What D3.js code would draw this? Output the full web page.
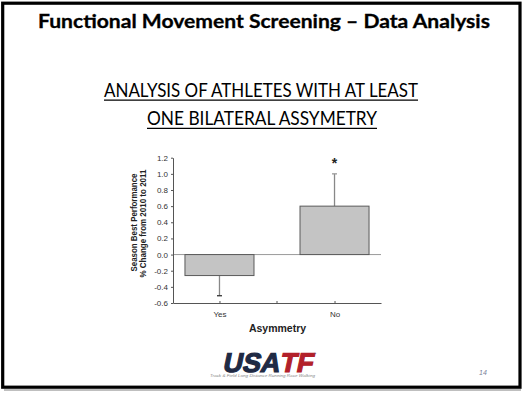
<!DOCTYPE html>
<html>
<head>
<meta charset="utf-8">
<script src="https://cdn.jsdelivr.net/npm/d3@7"></script>
<style>
  html, body { margin: 0; padding: 0; background: #fff; }
  svg { display: block; }
</style>
</head>
<body>
<svg id="slide" width="523" height="393"></svg>
<script>
// chart values
var categories = ["Yes", "No"];
var means = [-0.26, 0.60];
var errors = [0.25, 0.40];          // one-sided SD, drawn away from zero
var marks = ["", "*"];
var yTicks = [-0.6, -0.4, -0.2, 0.0, 0.2, 0.4, 0.6, 0.8, 1.0, 1.2];

var svg = d3.select("#slide");

// slide frame
svg.append("line")
    .attr("x1", 4).attr("x2", 521)
    .attr("y1", 390).attr("y2", 390)
    .attr("stroke", "#aaa").attr("stroke-width", 1.5);
svg.append("rect")
    .attr("x", 2.7).attr("y", 3.2)
    .attr("width", 517.3).attr("height", 384)
    .attr("fill", "#fff")
    .attr("stroke", "#000")
    .attr("stroke-width", 3.2);

// titles
svg.append("text")
    .attr("x", 264).attr("y", 28.3)
    .attr("text-anchor", "middle")
    .attr("font-family", "Lato, 'Open Sans', sans-serif")
    .attr("font-weight", "bold")
    .attr("font-size", 18.5)
    .attr("stroke", "#000").attr("stroke-width", 0.3)
    .attr("textLength", 452)
    .attr("lengthAdjust", "spacingAndGlyphs")
    .text("Functional Movement Screening \u2013 Data Analysis");

var subLines = [
    {text: "ANALYSIS OF ATHLETES WITH AT LEAST", cx: 261, y: 96.7, w: 314},
    {text: "ONE BILATERAL ASSYMETRY", cx: 262, y: 124.8, w: 230}
];
subLines.forEach(function (s) {
    svg.append("text")
        .attr("x", s.cx).attr("y", s.y)
        .attr("text-anchor", "middle")
        .attr("font-family", "Lato, 'Open Sans', sans-serif")
        .attr("font-size", 18.5)
        .attr("textLength", s.w)
        .attr("lengthAdjust", "spacingAndGlyphs")
        .text(s.text);
    svg.append("line")
        .attr("x1", s.cx - s.w / 2).attr("x2", s.cx + s.w / 2)
        .attr("y1", s.y + 3.5).attr("y2", s.y + 3.5)
        .attr("stroke", "#000").attr("stroke-width", 1.2);
});

// chart
var plotLeft = 173, plotRight = 381, plotTop = 157.7, plotBottom = 303;

var x = d3.scalePoint()
    .domain(categories)
    .range([plotLeft, plotRight])
    .padding(0.404);

var y = d3.scaleLinear()
    .domain([yTicks[0], yTicks[yTicks.length - 1]])
    .range([plotBottom, plotTop]);

var fmt = function (d) { return d3.format(".1f")(d).replace("\u2212", "-"); };
var barW = x.step() * 0.6;

var g = svg.append("g").attr("font-family", "'Liberation Sans', Arial, sans-serif");

// zero line
g.append("line")
    .attr("x1", plotLeft).attr("x2", plotRight)
    .attr("y1", y(0)).attr("y2", y(0))
    .attr("stroke", "#9a9a9a").attr("stroke-width", 1);

// error bars
var tip = function (i) { return means[i] + Math.sign(means[i]) * errors[i]; };
var err = g.selectAll(".err")
    .data(categories)
    .enter().append("g")
    .attr("class", "err");
err.append("line")
    .attr("x1", function (d) { return x(d); })
    .attr("x2", function (d) { return x(d); })
    .attr("y1", function (d, i) { return y(means[i]); })
    .attr("y2", function (d, i) { return y(tip(i)); })
    .attr("stroke", "#888").attr("stroke-width", 1.3);
err.append("line")
    .attr("x1", function (d) { return x(d) - 2.5; })
    .attr("x2", function (d) { return x(d) + 2.5; })
    .attr("y1", function (d, i) { return y(tip(i)); })
    .attr("y2", function (d, i) { return y(tip(i)); })
    .attr("stroke", function (d, i) { return i === 0 ? "#333" : "#999"; })
    .attr("stroke-width", 1.3);

// bars
g.selectAll(".bar")
    .data(categories)
    .enter().append("rect")
    .attr("class", "bar")
    .attr("x", function (d) { return x(d) - barW / 2; })
    .attr("y", function (d, i) { return y(Math.max(0, means[i])); })
    .attr("width", barW)
    .attr("height", function (d, i) { return Math.abs(y(means[i]) - y(0)); })
    .attr("fill", "#c4c4c4")
    .attr("stroke", "#5a5a5a")
    .attr("stroke-width", 1);

// significance marks
g.selectAll(".sig")
    .data(categories)
    .enter().append("text")
    .attr("class", "sig")
    .attr("x", function (d) { return x(d); })
    .attr("y", function (d, i) { return y(tip(i)) - 6; })
    .attr("text-anchor", "middle")
    .attr("font-size", 14)
    .attr("font-weight", "bold")
    .attr("fill", "#222")
    .text(function (d, i) { return marks[i]; });

// y axis
var yAxis = g.append("g")
    .attr("transform", "translate(" + plotLeft + ",0)")
    .call(d3.axisLeft(y).tickValues(yTicks).tickFormat(fmt)
        .tickSizeInner(2).tickSizeOuter(0).tickPadding(3));

// x axis
var xAxis = g.append("g")
    .attr("transform", "translate(0," + plotBottom + ")")
    .call(d3.axisBottom(x).tickSizeInner(-2).tickSizeOuter(0).tickPadding(8));
xAxis.append("line")
    .attr("x1", (x(categories[0]) + x(categories[1])) / 2)
    .attr("x2", (x(categories[0]) + x(categories[1])) / 2)
    .attr("y1", 0).attr("y2", -2)
    .attr("stroke", "#555");

[yAxis, xAxis].forEach(function (a) {
    a.attr("font-family", "'Liberation Sans', Arial, sans-serif").attr("font-size", 8);
    a.select(".domain").attr("stroke", "#555");
    a.selectAll(".tick line").attr("stroke", "#555");
    a.selectAll(".tick text").attr("fill", "#333");
});

// axis titles
g.append("text")
    .attr("x", (plotLeft + plotRight) / 2 + 0.5).attr("y", 332)
    .attr("text-anchor", "middle")
    .attr("font-size", 10.5)
    .attr("font-weight", "bold")
    .attr("fill", "#222")
    .text("Asymmetry");

var yTitle = [
    {text: "Season Best Performance", x: 136.5, w: 98, cy: 222.5},
    {text: "% Change from 2010 to 2011", x: 146, w: 108, cy: 223.5}
];
yTitle.forEach(function (t) {
    g.append("text")
        .attr("transform", "translate(" + t.x + "," + t.cy + ") rotate(-90)")
        .attr("text-anchor", "middle")
        .attr("font-size", 9)
        .attr("font-weight", "bold")
        .attr("fill", "#222")
        .attr("textLength", t.w)
        .attr("lengthAdjust", "spacingAndGlyphs")
        .text(t.text);
});

// logo
var logo = svg.append("g")
    .attr("font-family", "'Liberation Sans', Arial, sans-serif");
var word = logo.append("text")
    .attr("transform", "translate(222,371.5) skewX(-12)")
    .attr("font-size", 27)
    .attr("font-weight", "bold")
    .attr("stroke-width", 1.2)
    .attr("textLength", 90)
    .attr("lengthAdjust", "spacingAndGlyphs");
word.append("tspan").attr("fill", "#1f2a44").attr("stroke", "#1f2a44").text("USA");
word.append("tspan").attr("fill", "#b2202a").attr("stroke", "#b2202a").text("TF");
logo.append("text")
    .attr("x", 313).attr("y", 355)
    .attr("font-size", 3.5)
    .attr("fill", "#555")
    .text("\u2122");
logo.append("text")
    .attr("x", 210).attr("y", 377)
    .attr("font-size", 4)
    .attr("font-style", "italic")
    .attr("fill", "#888")
    .attr("textLength", 105)
    .attr("lengthAdjust", "spacingAndGlyphs")
    .text("Track & Field    Long Distance Running    Race Walking");

// page number
svg.append("text")
    .attr("x", 483).attr("y", 375)
    .attr("text-anchor", "middle")
    .attr("font-family", "'Liberation Sans', Arial, sans-serif")
    .attr("font-size", 7)
    .attr("font-style", "italic")
    .attr("fill", "#7a7f9a")
    .text("14");
</script>
</body>
</html>
